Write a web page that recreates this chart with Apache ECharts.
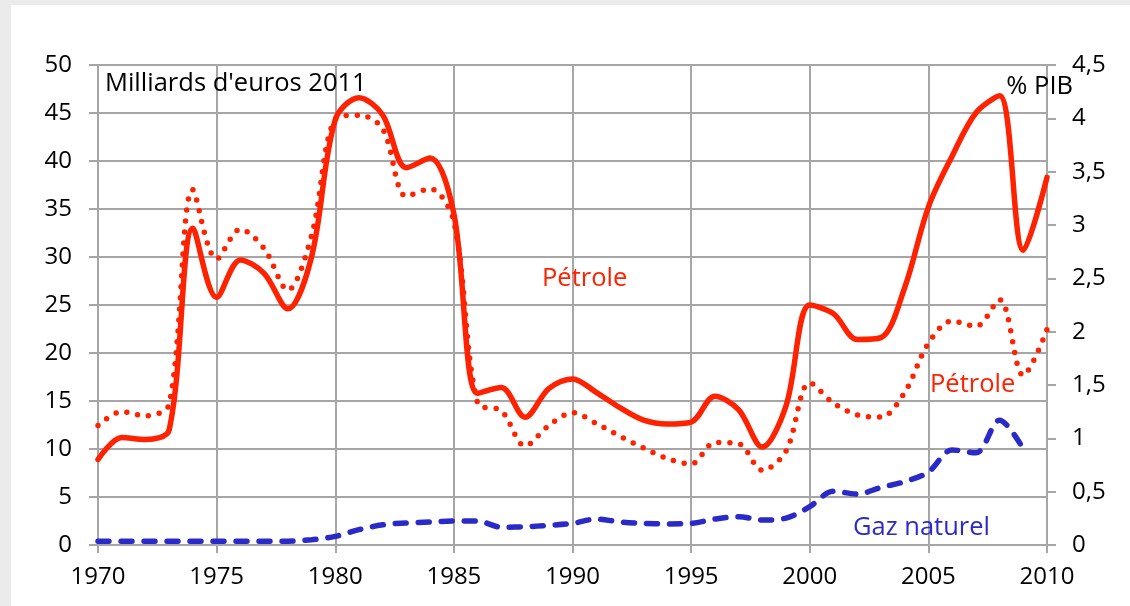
<!DOCTYPE html>
<html><head><meta charset="utf-8">
<script src="https://cdn.jsdelivr.net/npm/echarts@6/dist/echarts.min.js"></script>
<style>html,body{margin:0;padding:0;background:#ebebeb;}#wrap{position:absolute;left:11px;top:5px;width:1119px;height:601px;background:#fff;}#c{position:absolute;left:0;top:0;width:1130px;height:606px;}</style>
</head><body><div id="wrap"></div><div id="c"></div>
<script>
const years = [1970,1971,1972,1973,1974,1975,1976,1977,1978,1979,1980,1981,1982,1983,1984,1985,1986,1987,1988,1989,1990,1991,1992,1993,1994,1995,1996,1997,1998,1999,2000,2001,2002,2003,2004,2005,2006,2007,2008,2009,2010];
const petroleMds = [8.9,11.2,11.0,12.0,33.0,25.8,29.7,28.3,24.6,30.0,44.3,46.6,44.8,39.3,40.3,34.5,15.8,16.4,13.3,16.3,17.3,15.9,14.3,13.0,12.6,12.8,15.5,14.1,10.2,14.5,25.0,24.1,21.4,21.6,26.8,35.2,40.5,45.0,46.8,30.7,38.3];
const petrolePib = [1.12,1.25,1.21,1.32,3.33,2.68,2.96,2.78,2.39,2.9,3.99,4.03,3.9,3.27,3.34,3.03,1.33,1.26,0.93,1.12,1.24,1.14,1.02,0.91,0.81,0.76,0.96,0.95,0.70,0.88,1.52,1.33,1.22,1.20,1.43,1.89,2.10,2.05,2.30,1.59,2.02];
const gazMds = [0.4,0.4,0.4,0.4,0.4,0.4,0.4,0.4,0.4,0.55,0.9,1.6,2.1,2.3,2.4,2.5,2.5,1.85,1.9,2.05,2.25,2.7,2.4,2.25,2.2,2.25,2.7,2.95,2.6,2.8,4.0,5.6,5.3,6.0,6.6,7.6,9.9,9.6,13.0,10.0,null];
const leftTicks = {min:0,max:50,interval:5};
const rightTicks = {min:0,max:4.5,interval:0.5};
const labels = {unitLeft:"Milliards d'euros 2011", unitRight:"% PIB", petrole:"Pétrole", gaz:"Gaz naturel"};

const RED = '#ff2200', BLUE = '#2a2ac8', GRID = '#a6a6a6';
const FONT = 'Open Sans';
const TICKFS = 24, TXTFS = 25.5;
const SMOOTH = 0.33;
const pairs = arr => years.map((y,i)=>[y,arr[i]]);

const chart = echarts.init(document.getElementById('c'), null, {renderer:'canvas'});
chart.setOption({
  animation:false,
  backgroundColor:'transparent',
  grid:{left:98,right:83,top:65,bottom:61,containLabel:false},
  xAxis:{type:'value',min:1970,max:2010,interval:5,
    axisLine:{show:true,onZero:false,lineStyle:{color:GRID,width:2}},
    axisTick:{show:true,length:8,lineStyle:{color:GRID,width:2}},
    axisLabel:{color:'#000',fontFamily:FONT,fontSize:TICKFS,margin:20,formatter:v=>String(v)},
    splitLine:{show:true,lineStyle:{color:GRID,width:2}}},
  yAxis:[
    {type:'value',min:leftTicks.min,max:leftTicks.max,interval:leftTicks.interval,
     axisLine:{show:true,lineStyle:{color:GRID,width:2}},
     axisTick:{show:true,length:9,lineStyle:{color:GRID,width:2}},
     axisLabel:{color:'#000',fontFamily:FONT,fontSize:TICKFS,margin:26},
     splitLine:{show:true,lineStyle:{color:GRID,width:2}}},
    {type:'value',position:'right',min:rightTicks.min,max:rightTicks.max,interval:rightTicks.interval,
     axisLine:{show:true,lineStyle:{color:GRID,width:2}},
     axisTick:{show:true,length:9,lineStyle:{color:GRID,width:2}},
     axisLabel:{color:'#000',fontFamily:FONT,fontSize:TICKFS,margin:25,formatter:v=>String(+v.toFixed(1)).replace('.',',')},
     splitLine:{show:false}}
  ],
  series:[
    {name:'Pétrole (Mds)',type:'line',yAxisIndex:0,data:pairs(petroleMds),smooth:SMOOTH,smoothConstraint:false,showSymbol:false,
     lineStyle:{color:RED,width:5.5,cap:'round',join:'round'},z:4},
    {name:'Pétrole (% PIB)',type:'line',yAxisIndex:1,data:pairs(petrolePib),smooth:SMOOTH,smoothConstraint:false,showSymbol:false,
     lineStyle:{color:RED,width:5.5,type:[0,11],cap:'round'},z:3},
    {name:'Gaz naturel',type:'line',yAxisIndex:0,data:pairs(gazMds),smooth:SMOOTH,smoothConstraint:false,showSymbol:false,connectNulls:false,
     lineStyle:{color:BLUE,width:5.5,type:[11,12],cap:'round'},z:3}
  ],
  graphic:[
    {type:'text',z:100,left:105,top:71,style:{text:labels.unitLeft,fill:'#000',font:TXTFS+'px "'+FONT+'"'}},
    {type:'text',z:100,right:57,top:74,style:{text:labels.unitRight,fill:'#000',font:TXTFS+'px "'+FONT+'"'}},
    {type:'text',z:100,left:542,top:266,style:{text:labels.petrole,fill:RED,font:TXTFS+'px "'+FONT+'"'}},
    {type:'text',z:100,left:930,top:372,style:{text:labels.petrole,fill:RED,font:TXTFS+'px "'+FONT+'"'}},
    {type:'text',z:100,left:853,top:515,style:{text:labels.gaz,fill:BLUE,font:TXTFS+'px "'+FONT+'"'}}
  ]
});
</script></body></html>
